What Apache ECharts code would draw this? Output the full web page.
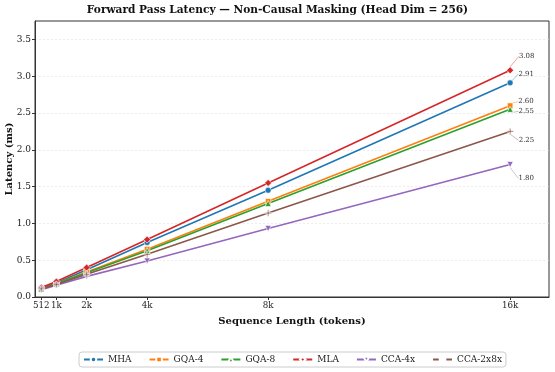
<!DOCTYPE html>
<html>
<head>
    <meta charset="utf-8">
    <title>Forward Pass Latency</title>
    <script src="https://cdn.jsdelivr.net/npm/echarts@6/dist/echarts.min.js"></script>
    <style>
        html, body { margin: 0; padding: 0; background: #fff; }
    </style>
</head>
<body>
<div id="chartmain" style="width:555px; height:372px;"></div>
<script>
    // sequence lengths (tokens) and latency (ms) per variant
    var seqLens = [512, 1024, 2048, 4096, 8192, 16384];
    var tickLabels = ['512', '1k', '2k', '4k', '8k', '16k'];
    var yTicks = [0, 0.5, 1.0, 1.5, 2.0, 2.5, 3.0, 3.5];

    var mha = [0.12, 0.19, 0.37, 0.74, 1.45, 2.91];
    var gqa4 = [0.11, 0.18, 0.34, 0.65, 1.30, 2.60];
    var gqa8 = [0.11, 0.18, 0.33, 0.63, 1.27, 2.55];
    var mla = [0.13, 0.21, 0.40, 0.78, 1.55, 3.08];
    var cca4x = [0.10, 0.16, 0.28, 0.49, 0.93, 1.80];
    var cca2x8x = [0.11, 0.17, 0.31, 0.58, 1.14, 2.25];

    var font = 'DejaVu Serif';
    var plusPath = 'path://M4,0H6V4H10V6H6V10H4V6H0V4H4Z';

    function makeSeries(name, values, color, symbol, size, rotate, labelDy) {
        var data = [];
        for (var i = 0; i < seqLens.length; i++) {
            data.push([seqLens[i], values[i]]);
        }
        var last = data.length - 1;
        // only the final point carries a value annotation
        data[last] = {
            value: data[last],
            label: {show: true},
            labelLine: {show: true}
        };
        return {
            name: name,
            type: 'line',
            data: data,
            color: color,
            symbol: symbol,
            symbolSize: size,
            symbolRotate: rotate,
            showAllSymbol: true,
            lineStyle: {width: 1.6, color: color},
            itemStyle: {color: color, borderColor: '#fff', borderWidth: 0.6},
            label: {
                show: false,
                position: 'right',
                distance: 5,
                fontFamily: font,
                fontSize: 7,
                color: '#333',
                formatter: function (p) { return p.value[1].toFixed(2); }
            },
            labelLine: {show: false, lineStyle: {color: color, width: 0.6, opacity: 0.7}},
            labelLayout: function (p) {
                if (p.dataIndex !== last) return {};
                return {dy: labelDy};
            },
            emphasis: {disabled: true},
            z: 3
        };
    }

    var myChart = echarts.init(document.getElementById('chartmain'));
    var option = {
        animation: false,
        title: {
            text: 'Forward Pass Latency — Non-Causal Masking (Head Dim = 256)',
            left: 'center',
            top: 0,
            textStyle: {fontFamily: font, fontSize: 10.6, fontWeight: 'bold', color: '#111'}
        },
        legend: {
            top: 352,
            left: 79,
            itemWidth: 19,
            itemHeight: 7,
            itemGap: 17,
            padding: [3, 4],
            borderColor: '#ccc',
            borderWidth: 1,
            borderRadius: 3,
            textStyle: {fontFamily: font, fontSize: 9, color: '#222'},
            data: ['MHA', 'GQA-4', 'GQA-8', 'MLA', 'CCA-4x', 'CCA-2x8x']
        },
        grid: {
            left: 35, right: 6, top: 21, bottom: 75,
            show: true, borderColor: '#333', borderWidth: 1,
            containLabel: false, outerBoundsMode: 'none'
        },
        xAxis: {
            type: 'value',
            min: 300,
            max: 17700,
            name: 'Sequence Length (tokens)',
            nameLocation: 'middle',
            nameGap: 19,
            nameMoveOverlap: false,
            nameTextStyle: {fontFamily: font, fontSize: 10, fontWeight: 'bold', color: '#111'},
            axisLine: {show: true, lineStyle: {color: '#333'}},
            axisTick: {show: true, inside: false, length: 3, customValues: seqLens, lineStyle: {color: '#333'}},
            axisLabel: {
                customValues: seqLens,
                fontFamily: font, fontSize: 8.7, color: '#222', margin: 4,
                formatter: function (v) {
                    var i = seqLens.indexOf(v);
                    return i >= 0 ? tickLabels[i] : '';
                }
            },
            splitLine: {show: false}
        },
        yAxis: {
            type: 'value',
            min: 0,
            max: 3.75,
            name: 'Latency (ms)',
            nameLocation: 'middle',
            nameGap: 21,
            nameMoveOverlap: false,
            nameTextStyle: {fontFamily: font, fontSize: 10, fontWeight: 'bold', color: '#111'},
            axisLine: {show: true, lineStyle: {color: '#333'}},
            axisTick: {show: true, length: 3, customValues: yTicks, lineStyle: {color: '#333'}},
            axisLabel: {
                customValues: yTicks,
                fontFamily: font, fontSize: 9, color: '#222', margin: 4,
                formatter: function (v) { return v.toFixed(1); }
            },
            splitLine: {show: true, lineStyle: {color: '#e3e3e3', type: [2, 2], width: 0.6}}
        },
        series: [
            makeSeries('MHA', mha, '#1f77b4', 'circle', 6, 0, -9),
            makeSeries('GQA-4', gqa4, '#ff7f0e', 'rect', 5.5, 0, -4),
            makeSeries('GQA-8', gqa8, '#2ca02c', 'triangle', 6, 0, 2),
            makeSeries('MLA', mla, '#d62728', 'diamond', 7, 0, -14),
            makeSeries('CCA-4x', cca4x, '#9467bd', 'triangle', 6, 180, 14),
            makeSeries('CCA-2x8x', cca2x8x, '#8c564b', plusPath, 6.5, 0, 9)
        ]
    };
    myChart.setOption(option);
</script>
</body>
</html>
